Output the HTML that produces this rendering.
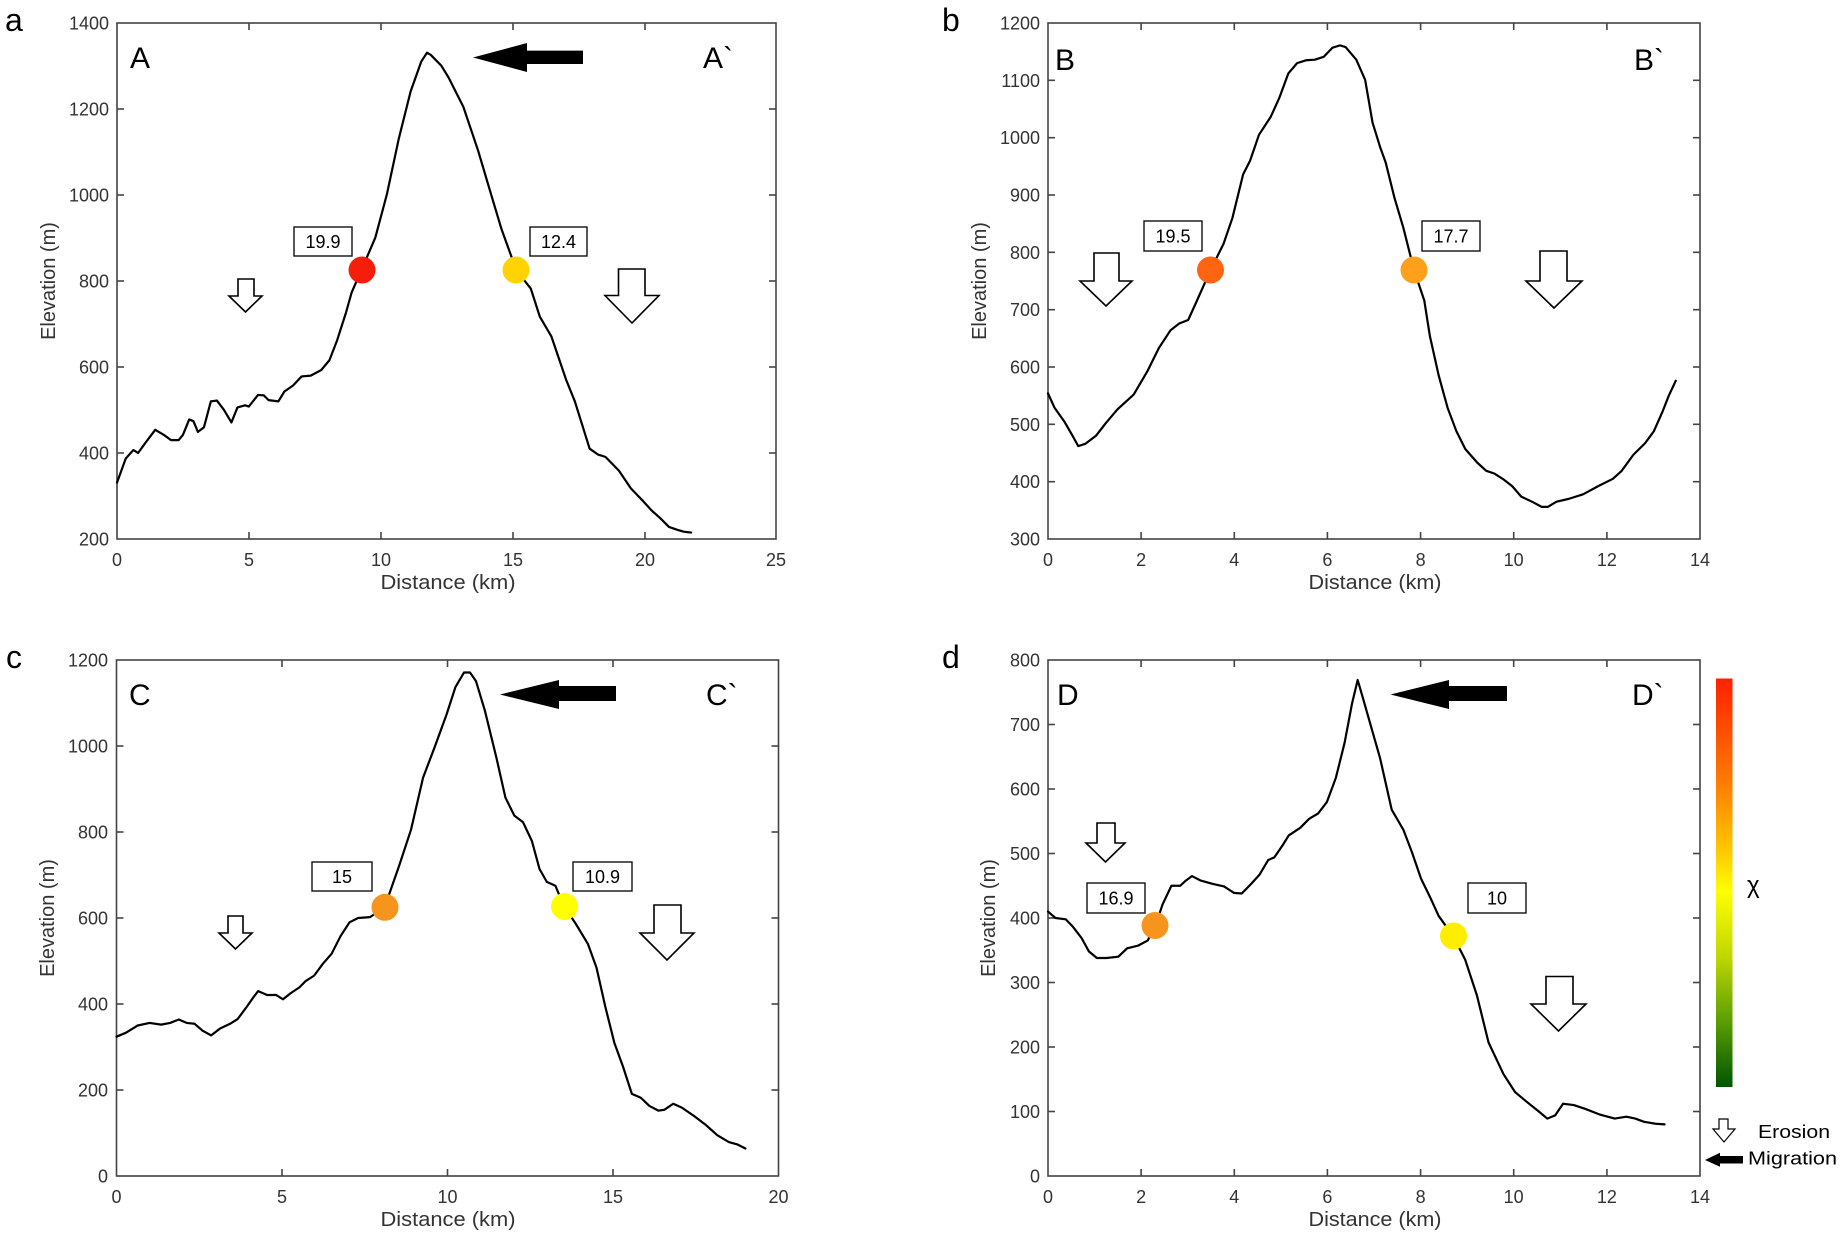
<!DOCTYPE html>
<html><head><meta charset="utf-8"><style>
html,body{margin:0;padding:0;background:#fff;}
svg{display:block;}
text{font-family:"Liberation Sans",Arial,sans-serif;}
.tk{font-size:18px;fill:#333;}
.ax{font-size:20px;fill:#333;}
.crv{fill:none;stroke:#000;stroke-width:2.2;stroke-linejoin:round;stroke-linecap:round;}
.frame{fill:none;stroke:#444;stroke-width:1.6;}
.tm{stroke:#444;stroke-width:1.6;}
.bx{fill:#fff;stroke:#111;stroke-width:1.4;}
.bt{font-size:18px;fill:#000;}
.ero{fill:#fff;stroke:#000;stroke-width:1.6;stroke-linejoin:miter;}
.big{font-size:30px;fill:#000;}
.pl{font-size:32px;fill:#000;}
</style></head><body>
<svg width="1843" height="1240" viewBox="0 0 1843 1240" xmlns="http://www.w3.org/2000/svg">
<defs>
<linearGradient id="cb" x1="0" y1="0" x2="0" y2="1">
<stop offset="0" stop-color="#ff2000"/>
<stop offset="0.25" stop-color="#ff7a00"/>
<stop offset="0.43" stop-color="#ffcc00"/>
<stop offset="0.52" stop-color="#ffff00"/>
<stop offset="0.68" stop-color="#c0d800"/>
<stop offset="0.84" stop-color="#5a9e00"/>
<stop offset="1" stop-color="#005500"/>
</linearGradient>
</defs>

<!-- ================= PANEL A ================= -->
<text class="pl" x="5" y="31">a</text>
<rect class="frame" x="117" y="23" width="659" height="516"/>
<g class="tm">
<line x1="249" y1="539" x2="249" y2="532"/><line x1="381" y1="539" x2="381" y2="532"/><line x1="513" y1="539" x2="513" y2="532"/><line x1="645" y1="539" x2="645" y2="532"/>
<line x1="249" y1="23" x2="249" y2="30"/><line x1="381" y1="23" x2="381" y2="30"/><line x1="513" y1="23" x2="513" y2="30"/><line x1="645" y1="23" x2="645" y2="30"/>
<line x1="117" y1="453" x2="124" y2="453"/><line x1="117" y1="367" x2="124" y2="367"/><line x1="117" y1="281" x2="124" y2="281"/><line x1="117" y1="195" x2="124" y2="195"/><line x1="117" y1="109" x2="124" y2="109"/>
<line x1="776" y1="453" x2="769" y2="453"/><line x1="776" y1="367" x2="769" y2="367"/><line x1="776" y1="281" x2="769" y2="281"/><line x1="776" y1="195" x2="769" y2="195"/><line x1="776" y1="109" x2="769" y2="109"/>
</g>
<g class="tk" text-anchor="end">
<text x="109" y="545.5">200</text><text x="109" y="459.5">400</text><text x="109" y="373.5">600</text><text x="109" y="287.5">800</text><text x="109" y="201.5">1000</text><text x="109" y="115.5">1200</text><text x="109" y="29.5">1400</text>
</g>
<g class="tk" text-anchor="middle">
<text x="117" y="566">0</text><text x="249" y="566">5</text><text x="381" y="566">10</text><text x="513" y="566">15</text><text x="645" y="566">20</text><text x="776" y="566">25</text>
</g>
<text class="ax" x="448" y="589" text-anchor="middle" textLength="135" lengthAdjust="spacingAndGlyphs">Distance (km)</text>
<text class="ax" transform="translate(55,281) rotate(-90)" text-anchor="middle">Elevation (m)</text>
<polyline class="crv" vector-effect="non-scaling-stroke" transform="matrix(26.36,0,0,-0.43,117,625)" points="0,331 0.33,387 0.62,407 0.8,400 1.07,423 1.45,454 1.78,442 2.05,430 2.34,430 2.5,442 2.74,478 2.9,474 3.07,449 3.3,460 3.56,520 3.79,522 4.05,501 4.34,471 4.57,506 4.86,511 5.0,508 5.35,535 5.57,534 5.75,523 6.12,520 6.35,543 6.68,557 7.0,578 7.35,580 7.75,593 8.06,616 8.35,662 8.69,727 8.9,773 9.27,825 9.8,901 10.24,1002 10.69,1131 11.14,1241 11.54,1310 11.76,1331 11.9,1326 12.3,1301 12.58,1273 13.14,1205 13.7,1103 14.14,1012 14.59,920 15.15,825 15.7,782 16.04,717 16.48,671 17.04,570 17.37,520 17.93,410 18.26,396 18.53,391 19.04,359 19.49,318 19.93,290 20.27,267 20.6,249 20.94,228 21.27,221 21.5,217 21.78,215"/>
<circle cx="362" cy="270" r="13.5" fill="#f51e0a"/>
<circle cx="516" cy="270" r="13.5" fill="#ffd200"/>
<rect class="bx" x="294" y="227" width="58" height="29"/><text class="bt" x="323" y="248" text-anchor="middle">19.9</text>
<rect class="bx" x="530" y="227" width="57" height="29"/><text class="bt" x="558.5" y="248" text-anchor="middle">12.4</text>
<text class="big" x="130" y="68">A</text>
<text class="big" x="703" y="68">A`</text>
<polygon fill="#000" points="473,57.5 527,43 527,50.6 583,50.6 583,64 527,64 527,72"/>
<polygon class="ero" points="238,279 254,279 254,296 262,296 245.5,312 229,296 238,296"/>
<polygon class="ero" points="618.5,269 645,269 645,295.5 659,295.5 632,323 605,295.5 618.5,295.5"/>

<!-- ================= PANEL B ================= -->
<text class="pl" x="942" y="31">b</text>
<rect class="frame" x="1048" y="23" width="652" height="516"/>
<g class="tm">
<line x1="1141.1" y1="539" x2="1141.1" y2="532"/><line x1="1234.3" y1="539" x2="1234.3" y2="532"/><line x1="1327.4" y1="539" x2="1327.4" y2="532"/><line x1="1420.6" y1="539" x2="1420.6" y2="532"/><line x1="1513.7" y1="539" x2="1513.7" y2="532"/><line x1="1606.9" y1="539" x2="1606.9" y2="532"/>
<line x1="1141.1" y1="23" x2="1141.1" y2="30"/><line x1="1234.3" y1="23" x2="1234.3" y2="30"/><line x1="1327.4" y1="23" x2="1327.4" y2="30"/><line x1="1420.6" y1="23" x2="1420.6" y2="30"/><line x1="1513.7" y1="23" x2="1513.7" y2="30"/><line x1="1606.9" y1="23" x2="1606.9" y2="30"/>
<line x1="1048" y1="481.7" x2="1055" y2="481.7"/><line x1="1048" y1="424.3" x2="1055" y2="424.3"/><line x1="1048" y1="367" x2="1055" y2="367"/><line x1="1048" y1="309.7" x2="1055" y2="309.7"/><line x1="1048" y1="252.3" x2="1055" y2="252.3"/><line x1="1048" y1="195" x2="1055" y2="195"/><line x1="1048" y1="137.7" x2="1055" y2="137.7"/><line x1="1048" y1="80.3" x2="1055" y2="80.3"/>
<line x1="1700" y1="481.7" x2="1693" y2="481.7"/><line x1="1700" y1="424.3" x2="1693" y2="424.3"/><line x1="1700" y1="367" x2="1693" y2="367"/><line x1="1700" y1="309.7" x2="1693" y2="309.7"/><line x1="1700" y1="252.3" x2="1693" y2="252.3"/><line x1="1700" y1="195" x2="1693" y2="195"/><line x1="1700" y1="137.7" x2="1693" y2="137.7"/><line x1="1700" y1="80.3" x2="1693" y2="80.3"/>
</g>
<g class="tk" text-anchor="end">
<text x="1040" y="545.5">300</text><text x="1040" y="488.2">400</text><text x="1040" y="430.8">500</text><text x="1040" y="373.5">600</text><text x="1040" y="316.2">700</text><text x="1040" y="258.8">800</text><text x="1040" y="201.5">900</text><text x="1040" y="144.2">1000</text><text x="1040" y="86.8">1100</text><text x="1040" y="29.5">1200</text>
</g>
<g class="tk" text-anchor="middle">
<text x="1048" y="566">0</text><text x="1141.1" y="566">2</text><text x="1234.3" y="566">4</text><text x="1327.4" y="566">6</text><text x="1420.6" y="566">8</text><text x="1513.7" y="566">10</text><text x="1606.9" y="566">12</text><text x="1700" y="566">14</text>
</g>
<text class="ax" x="1375" y="589" text-anchor="middle" textLength="133" lengthAdjust="spacingAndGlyphs">Distance (km)</text>
<text class="ax" transform="translate(986,281) rotate(-90)" text-anchor="middle">Elevation (m)</text>
<polyline class="crv" vector-effect="non-scaling-stroke" transform="matrix(46.57,0,0,-0.57333,1048,711)" points="0,554 0.14,529 0.35,505 0.52,481 0.65,462 0.8,466 1.03,480 1.24,502 1.49,526 1.84,552 2.13,592 2.38,633 2.63,664 2.82,676 3.01,682 3.2,716 3.49,769 3.77,815 3.96,860 4.19,936 4.34,960 4.53,1005 4.78,1036 4.97,1070 5.16,1112 5.35,1130 5.54,1135 5.73,1136 5.92,1141 6.11,1157 6.27,1161 6.39,1158 6.62,1136 6.81,1101 6.97,1026 7.13,984 7.25,957 7.44,895 7.63,843 7.86,769 8.08,716 8.2,654 8.39,585 8.58,529 8.77,488 8.96,457 9.22,433 9.41,419 9.59,414 9.78,404 9.97,392 10.16,374 10.42,364 10.6,356 10.73,356 10.92,365 11.18,370 11.49,378 11.81,392 12.13,405 12.32,419 12.57,447 12.82,467 13.01,488 13.2,523 13.33,550 13.48,576"/>
<circle cx="1210.5" cy="270" r="13.5" fill="#ff6410"/>
<circle cx="1414" cy="270" r="13.5" fill="#ffa01a"/>
<rect class="bx" x="1144" y="221" width="58" height="30"/><text class="bt" x="1173" y="242.5" text-anchor="middle">19.5</text>
<rect class="bx" x="1422" y="221" width="58" height="30"/><text class="bt" x="1451" y="242.5" text-anchor="middle">17.7</text>
<text class="big" x="1055" y="70">B</text>
<text class="big" x="1634" y="70">B`</text>
<polygon class="ero" points="1094,253 1119,253 1119,281 1132,281 1106,306 1080,281 1094,281"/>
<polygon class="ero" points="1540,251 1567,251 1567,281 1582,281 1554,308 1526,281 1540,281"/>

<!-- ================= PANEL C ================= -->
<text class="pl" x="6" y="668">c</text>
<rect class="frame" x="116.5" y="660" width="662" height="516"/>
<g class="tm">
<line x1="282" y1="1176" x2="282" y2="1169"/><line x1="447.5" y1="1176" x2="447.5" y2="1169"/><line x1="613" y1="1176" x2="613" y2="1169"/>
<line x1="282" y1="660" x2="282" y2="667"/><line x1="447.5" y1="660" x2="447.5" y2="667"/><line x1="613" y1="660" x2="613" y2="667"/>
<line x1="116.5" y1="1090" x2="123.5" y2="1090"/><line x1="116.5" y1="1004" x2="123.5" y2="1004"/><line x1="116.5" y1="918" x2="123.5" y2="918"/><line x1="116.5" y1="832" x2="123.5" y2="832"/><line x1="116.5" y1="746" x2="123.5" y2="746"/>
<line x1="778.5" y1="1090" x2="771.5" y2="1090"/><line x1="778.5" y1="1004" x2="771.5" y2="1004"/><line x1="778.5" y1="918" x2="771.5" y2="918"/><line x1="778.5" y1="832" x2="771.5" y2="832"/><line x1="778.5" y1="746" x2="771.5" y2="746"/>
</g>
<g class="tk" text-anchor="end">
<text x="108" y="1182.5">0</text><text x="108" y="1096.5">200</text><text x="108" y="1010.5">400</text><text x="108" y="924.5">600</text><text x="108" y="838.5">800</text><text x="108" y="752.5">1000</text><text x="108" y="666.5">1200</text>
</g>
<g class="tk" text-anchor="middle">
<text x="116.5" y="1203">0</text><text x="282" y="1203">5</text><text x="447.5" y="1203">10</text><text x="613" y="1203">15</text><text x="778.5" y="1203">20</text>
</g>
<text class="ax" x="448" y="1226" text-anchor="middle" textLength="135" lengthAdjust="spacingAndGlyphs">Distance (km)</text>
<text class="ax" transform="translate(54,918) rotate(-90)" text-anchor="middle">Elevation (m)</text>
<polyline class="crv" vector-effect="non-scaling-stroke" transform="matrix(33.1,0,0,-0.43,116.5,1176)" points="0,324 0.28,333 0.64,350 1.0,356 1.35,352 1.62,356 1.88,364 2.12,356 2.36,354 2.6,338 2.86,327 3.13,343 3.43,354 3.66,365 3.93,393 4.14,416 4.28,430 4.55,421 4.82,421 5.03,411 5.26,425 5.53,439 5.71,453 5.97,466 6.24,494 6.5,517 6.77,558 7.04,590 7.3,600 7.66,602 8.1,625 8.55,724 8.9,806 9.26,926 9.62,999 9.97,1073 10.24,1137 10.5,1171 10.68,1171 10.86,1151 11.13,1082 11.48,972 11.75,880 12.02,838 12.28,823 12.55,779 12.78,714 13.0,684 13.26,675 13.52,627 13.88,586 14.24,540 14.5,485 14.77,393 15.04,310 15.3,255 15.57,191 15.84,182 16.1,163 16.37,152 16.55,154 16.82,168 17.08,159 17.44,140 17.8,119 18.15,95 18.5,79 18.77,73 19.0,64"/>
<circle cx="385" cy="907.3" r="13.5" fill="#f7941d"/>
<circle cx="564.5" cy="906.5" r="13.5" fill="#ffff00"/>
<rect class="bx" x="312" y="862" width="60" height="29"/><text class="bt" x="342" y="883" text-anchor="middle">15</text>
<rect class="bx" x="573" y="862" width="59" height="29"/><text class="bt" x="602.5" y="883" text-anchor="middle">10.9</text>
<text class="big" x="129" y="705">C</text>
<text class="big" x="706" y="705">C`</text>
<polygon fill="#000" points="500,694.5 559,680 559,686 616,686 616,701 559,701 559,709"/>
<polygon class="ero" points="228,916 243,916 243,933 252,933 235.5,949 219,933 228,933"/>
<polygon class="ero" points="654,905 681,905 681,933 694,933 667,960 640,933 654,933"/>

<!-- ================= PANEL D ================= -->
<text class="pl" x="942" y="668">d</text>
<rect class="frame" x="1048" y="660" width="652" height="516"/>
<g class="tm">
<line x1="1141.1" y1="1176" x2="1141.1" y2="1169"/><line x1="1234.3" y1="1176" x2="1234.3" y2="1169"/><line x1="1327.4" y1="1176" x2="1327.4" y2="1169"/><line x1="1420.6" y1="1176" x2="1420.6" y2="1169"/><line x1="1513.7" y1="1176" x2="1513.7" y2="1169"/><line x1="1606.9" y1="1176" x2="1606.9" y2="1169"/>
<line x1="1141.1" y1="660" x2="1141.1" y2="667"/><line x1="1234.3" y1="660" x2="1234.3" y2="667"/><line x1="1327.4" y1="660" x2="1327.4" y2="667"/><line x1="1420.6" y1="660" x2="1420.6" y2="667"/><line x1="1513.7" y1="660" x2="1513.7" y2="667"/><line x1="1606.9" y1="660" x2="1606.9" y2="667"/>
<line x1="1048" y1="1111.5" x2="1055" y2="1111.5"/><line x1="1048" y1="1047" x2="1055" y2="1047"/><line x1="1048" y1="982.5" x2="1055" y2="982.5"/><line x1="1048" y1="918" x2="1055" y2="918"/><line x1="1048" y1="853.5" x2="1055" y2="853.5"/><line x1="1048" y1="789" x2="1055" y2="789"/><line x1="1048" y1="724.5" x2="1055" y2="724.5"/>
<line x1="1700" y1="1111.5" x2="1693" y2="1111.5"/><line x1="1700" y1="1047" x2="1693" y2="1047"/><line x1="1700" y1="982.5" x2="1693" y2="982.5"/><line x1="1700" y1="918" x2="1693" y2="918"/><line x1="1700" y1="853.5" x2="1693" y2="853.5"/><line x1="1700" y1="789" x2="1693" y2="789"/><line x1="1700" y1="724.5" x2="1693" y2="724.5"/>
</g>
<g class="tk" text-anchor="end">
<text x="1040" y="1182.5">0</text><text x="1040" y="1118">100</text><text x="1040" y="1053.5">200</text><text x="1040" y="989">300</text><text x="1040" y="924.5">400</text><text x="1040" y="860">500</text><text x="1040" y="795.5">600</text><text x="1040" y="731">700</text><text x="1040" y="666.5">800</text>
</g>
<g class="tk" text-anchor="middle">
<text x="1048" y="1203">0</text><text x="1141.1" y="1203">2</text><text x="1234.3" y="1203">4</text><text x="1327.4" y="1203">6</text><text x="1420.6" y="1203">8</text><text x="1513.7" y="1203">10</text><text x="1606.9" y="1203">12</text><text x="1700" y="1203">14</text>
</g>
<text class="ax" x="1375" y="1226" text-anchor="middle" textLength="133" lengthAdjust="spacingAndGlyphs">Distance (km)</text>
<text class="ax" transform="translate(995,918) rotate(-90)" text-anchor="middle">Elevation (m)</text>
<polyline class="crv" vector-effect="non-scaling-stroke" transform="matrix(46.57,0,0,-0.645,1048,1176)" points="0,410 0.16,400 0.38,398 0.54,386 0.72,369 0.88,348 1.05,338 1.26,338 1.51,340 1.7,353 1.93,357 2.14,365 2.31,389 2.46,421 2.65,450 2.84,450 2.96,458 3.09,465 3.28,458 3.53,453 3.78,449 3.99,439 4.16,438 4.35,452 4.54,467 4.73,490 4.86,494 5.04,513 5.17,528 5.42,540 5.61,554 5.8,562 5.99,580 6.18,617 6.37,672 6.53,733 6.65,769 6.77,739 6.94,696 7.13,648 7.38,568 7.63,537 7.82,501 8.01,461 8.2,433 8.39,403 8.7,372 8.96,335 9.21,280 9.46,207 9.78,158 10.03,130 10.28,115 10.54,100 10.72,89 10.89,94 11.06,112 11.29,110 11.54,104 11.86,95 12.17,89 12.42,92 12.61,89 12.8,84 13.05,81 13.24,80"/>
<circle cx="1155" cy="925.5" r="13.5" fill="#f7941d"/>
<circle cx="1453.5" cy="936" r="13.5" fill="#ffee00"/>
<rect class="bx" x="1087" y="883" width="58" height="30"/><text class="bt" x="1116" y="904.5" text-anchor="middle">16.9</text>
<rect class="bx" x="1468" y="883" width="58" height="30"/><text class="bt" x="1497" y="904.5" text-anchor="middle">10</text>
<text class="big" x="1057" y="705">D</text>
<text class="big" x="1632" y="705">D`</text>
<polygon fill="#000" points="1390.5,694.5 1449,680 1449,686 1507,686 1507,701 1449,701 1449,709"/>
<polygon class="ero" points="1097,823 1115,823 1115,843 1125,843 1105.5,862 1086,843 1097,843"/>
<polygon class="ero" points="1546,976.5 1573,976.5 1573,1004 1586,1004 1558.5,1031 1531,1004 1546,1004"/>

<!-- colorbar & legend -->
<rect x="1716" y="678.5" width="16.5" height="408.5" fill="url(#cb)"/>
<text x="1747" y="893" style="font-size:24px;fill:#000;">χ</text>
<polygon class="ero" points="1719,1119 1728,1119 1728,1129 1735,1129 1724,1142 1713,1129 1719,1129" style="stroke-width:1.2"/>
<text x="1758" y="1138" style="font-size:18px;fill:#000;" textLength="72" lengthAdjust="spacingAndGlyphs">Erosion</text>
<polygon fill="#000" points="1705,1160 1720,1152.7 1720,1156 1743,1156 1743,1163.5 1720,1163.5 1720,1166.7"/>
<text x="1748" y="1164.5" style="font-size:18px;fill:#000;" textLength="89" lengthAdjust="spacingAndGlyphs">Migration</text>
</svg>
</body></html>
